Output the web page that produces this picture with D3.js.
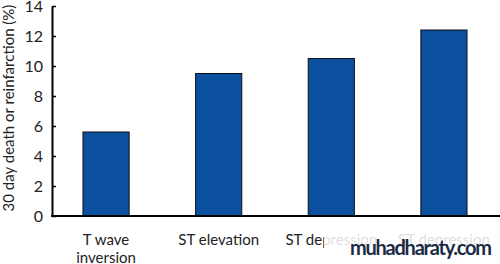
<!DOCTYPE html>
<html>
<head>
<meta charset="utf-8">
<script src="https://cdn.jsdelivr.net/npm/d3@7"></script>
<style>
	body { margin: 0; background: #fff; }
	svg text { font-family: 'Lato', 'DejaVu Sans', sans-serif; }
</style>
</head>
<body>
<div id="chart"></div>
<script>
// chart data
const categories = ['T wave|inversion', 'ST elevation', 'ST depression', 'ST depression'];
const values = [5.6, 9.5, 10.5, 12.4];
const yTicks = [0, 2, 4, 6, 8, 10, 12, 14];
const yTitle = '30 day death or reinfarction (%)';
const watermark = 'muhadharaty.com';

const width = 500;
const height = 264;
const margin = { top: 6, right: 0, bottom: 48, left: 52 };

const svg = d3
	.select('#chart')
	.append('svg')
	.attr('width', width)
	.attr('height', height);

// two categories share a name, so the band scale is keyed on index
const x = d3
	.scaleBand()
	.domain(d3.range(categories.length))
	.range([margin.left, 498])
	.paddingInner(0.59)
	.paddingOuter(0.275);

const y = d3
	.scaleLinear()
	.domain([0, 14])
	.range([height - margin.bottom, margin.top]);

// bars
svg
	.selectAll('.bar')
	.data(values)
	.join('rect')
	.attr('class', 'bar')
	.attr('x', (d, i) => x(i))
	.attr('y', (d) => y(d))
	.attr('width', x.bandwidth())
	.attr('height', (d) => y(0) - y(d))
	.attr('fill', '#0b4f9f')
	.attr('stroke', '#111')
	.attr('stroke-width', 1);

// y axis
const yAxisG = svg
	.append('g')
	.attr('transform', `translate(${margin.left},0)`)
	.call(
		d3.axisLeft(y).tickValues(yTicks).tickSizeInner(-4).tickSizeOuter(0).tickPadding(9)
	);
yAxisG.select('.domain').attr('stroke', '#000').attr('stroke-width', 2);
yAxisG.selectAll('.tick line').attr('stroke', '#000').attr('stroke-width', 1.5);
yAxisG.selectAll('.tick text').attr('font-size', 16).attr('fill', '#222');

// x axis line
svg
	.append('line')
	.attr('x1', margin.left - 1)
	.attr('x2', width)
	.attr('y1', y(0))
	.attr('y2', y(0))
	.attr('stroke', '#000')
	.attr('stroke-width', 2);

// category labels
const labels = svg
	.selectAll('.cat')
	.data(categories)
	.join('text')
	.attr('class', 'cat')
	.attr('text-anchor', 'middle')
	.attr('font-size', 15)
	.attr('fill', '#222')
	.attr('transform', (d, i) => `translate(${x(i) + x.bandwidth() / 2},${y(0) + 29})`);
labels
	.selectAll('tspan')
	.data((d) => d.split('|'))
	.join('tspan')
	.attr('x', 0)
	.attr('dy', (d, i) => (i === 0 ? 0 : 18))
	.text((d) => d);

// y title
svg
	.append('text')
	.attr('transform', `translate(14,${(y(0) + margin.top) / 2 - 3}) rotate(-90)`)
	.attr('text-anchor', 'middle')
	.attr('font-size', 15)
	.attr('fill', '#222')
	.text(yTitle);

// watermark covering part of the labels
svg
	.append('rect')
	.attr('x', 324)
	.attr('y', 231)
	.attr('width', 176)
	.attr('height', 33)
	.attr('fill', '#fff')
	.attr('opacity', 0.85);

svg
	.append('text')
	.attr('x', 350)
	.attr('y', 255)
	.attr('font-size', 20)
	.attr('font-weight', 'bold')
	.attr('fill', '#1c2a45')
	.attr('textLength', 142)
	.text(watermark);
</script>
</body>
</html>
